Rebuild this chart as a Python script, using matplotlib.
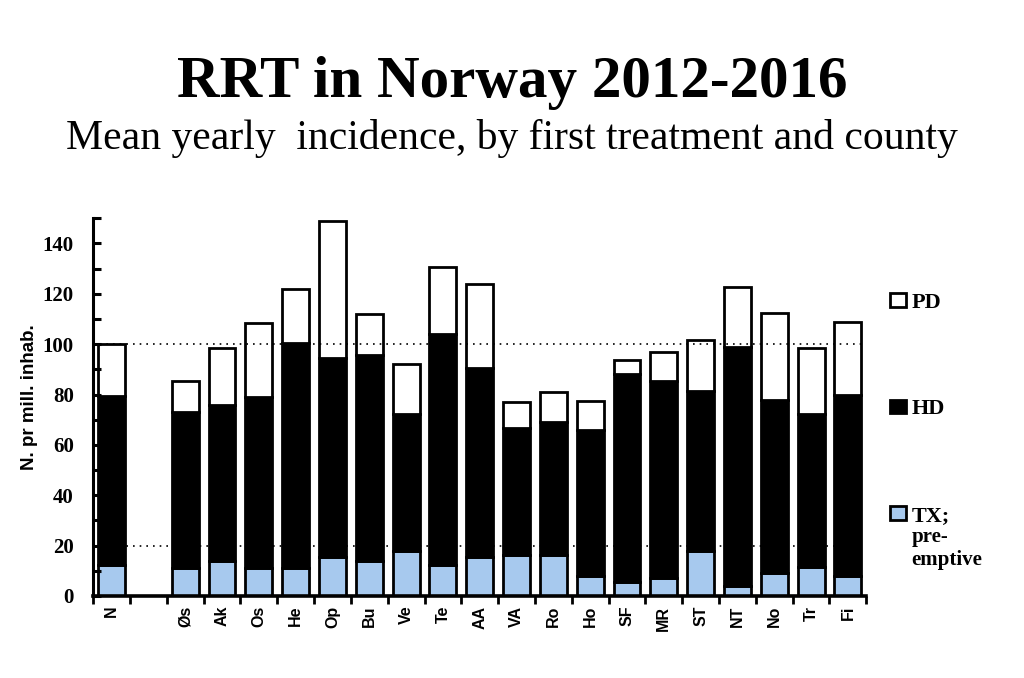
import matplotlib.pyplot as plt
from matplotlib.text import Annotation
import numpy as np

# categories: national mean, an empty slot, then the counties
regions = ['N', '', 'Øs', 'Ak', 'Os', 'He', 'Op', 'Bu', 'Ve', 'Te', 'AA',
           'VA', 'Ro', 'Ho', 'SF', 'MR', 'ST', 'NT', 'No', 'Tr', 'Fi']
tx = [12.3, 0, 11, 13.9, 11, 11, 15.5, 14, 17.9, 12.3, 15.5,
      16.3, 16.3, 8, 5.5, 7, 17.9, 4, 9, 11.5, 8]
hd_top = [79.4, 0, 73, 75.8, 79, 100.4, 94.4, 95.6, 72.2, 104, 90.5,
          66.7, 69, 65.9, 88, 85.3, 81.3, 98.8, 77.8, 72.2, 79.8]
total = [100, 0, 85.3, 98.4, 108.3, 121.8, 149, 112, 92, 130.5, 123.8,
         77, 81, 77.4, 93.7, 96.8, 101.6, 122.6, 112.3, 98.4, 108.7]

tx = np.array(tx)
hd = np.array(hd_top) - tx
pd_ = np.array(total) - np.array(hd_top)

TX_COLOR = '#a7c9ee'
serif = 'Liberation Serif'
sans = 'Liberation Sans'

fig = plt.figure(figsize=(10.24, 6.78), dpi=100)
ax = fig.add_axes([0.091, 0.121, 0.755, 0.557])

x = np.arange(len(regions))
w = 0.73
lw = 2.0
b1 = ax.bar(x, tx, w, color=TX_COLOR, edgecolor='black', linewidth=lw, label='TX;')
b2 = ax.bar(x, hd, w, bottom=tx, color='black', edgecolor='black', linewidth=lw, label='HD')
b3 = ax.bar(x, pd_, w, bottom=tx + hd, color='white', edgecolor='black', linewidth=lw, label='PD')
# hide the empty slot
for b in (b1, b2, b3):
    b[1].set_visible(False)

for yref in (20, 100):
    ax.axhline(yref, color='black', linestyle=(0, (1, 3)), linewidth=1.2, zorder=5)

ax.set_xlim(-0.5, len(regions) - 0.5)
ax.set_ylim(0, 150)

ax.spines['top'].set_visible(False)
ax.spines['right'].set_visible(False)
ax.spines['left'].set_linewidth(2.2)
ax.spines['bottom'].set_linewidth(2.6)

ax.set_yticks(np.arange(0, 151, 10))
ax.set_yticklabels([str(v) if v % 20 == 0 else '' for v in range(0, 151, 10)],
                   fontfamily=serif, fontweight='bold', fontsize=15)
ax.tick_params(axis='y', direction='in', length=6, width=2.2, pad=14)

ax.set_xticks(x)
ax.set_xticklabels(regions, rotation=90, fontfamily=sans, fontweight='bold', fontsize=11.5)
ax.tick_params(axis='x', which='major', length=0, pad=7)
ax.set_xticks(np.arange(-0.5, len(regions)), minor=True)
ax.tick_params(axis='x', which='minor', direction='out', length=6, width=2)

ax.set_ylabel('N. pr mill. inhab.', fontfamily=sans, fontweight='bold', fontsize=13.5)
ax.yaxis.set_label_coords(-0.071, 0.527)

leg = ax.legend(handles=[b3, b2, b1], frameon=False, loc='upper left',
                bbox_to_anchor=(1.031, 0.803), prop={'family': serif, 'weight': 'bold', 'size': 16},
                handlelength=0.7, handleheight=0.55, handletextpad=0.25, labelspacing=3.9,
                borderaxespad=0, borderpad=0)
for h in leg.legend_handles:
    h.set_linewidth(2)
fig.add_artist(Annotation('pre-\nemptive', xy=(0, 0), xycoords=leg.get_texts()[-1],
                          xytext=(0, -1), textcoords='offset points', va='top', ha='left',
                          fontfamily=serif, fontweight='bold', fontsize=15, linespacing=1.15))

fig.text(0.5, 0.878, 'RRT in Norway 2012-2016', ha='center', va='center',
         fontfamily=serif, fontweight='bold', fontsize=42.5)
fig.text(0.5, 0.795, 'Mean yearly  incidence, by first treatment and county', ha='center',
         va='center', fontfamily=serif, fontsize=30)

fig.savefig('out.png', dpi=100)
